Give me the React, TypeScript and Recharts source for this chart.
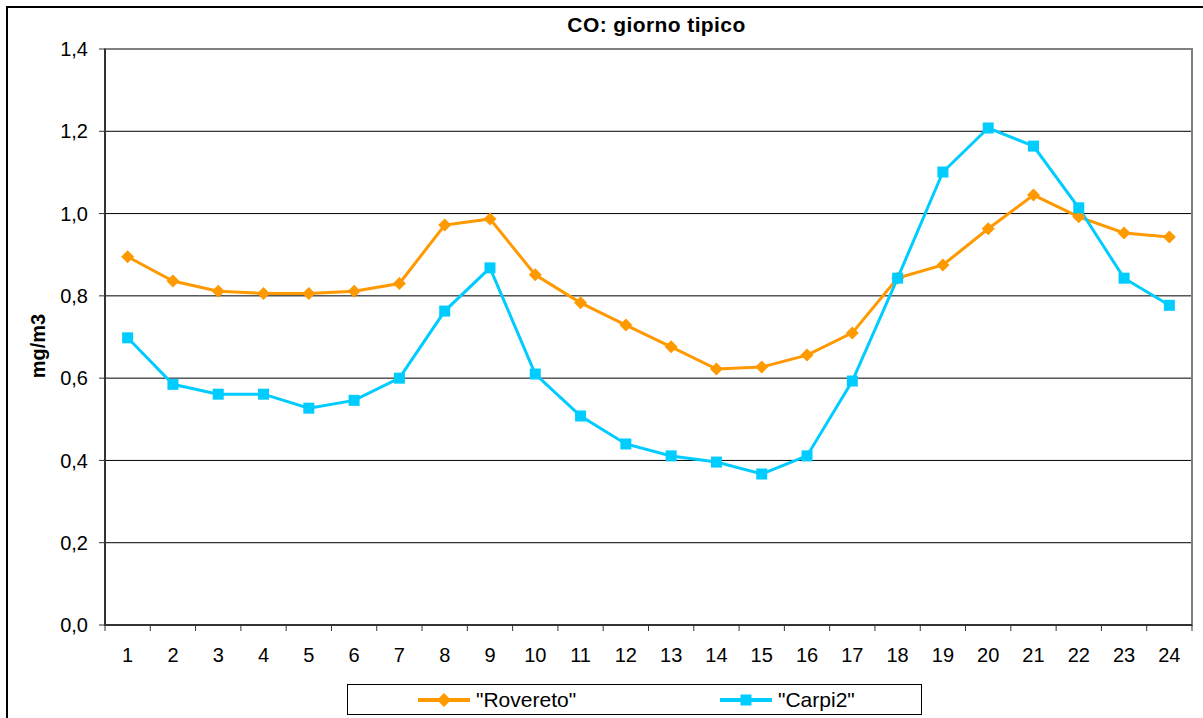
import {
  LineChart,
  Line,
  XAxis,
  YAxis,
  CartesianGrid,
  ReferenceArea,
} from "recharts";

const hours = [
  "1", "2", "3", "4", "5", "6", "7", "8", "9", "10", "11", "12",
  "13", "14", "15", "16", "17", "18", "19", "20", "21", "22", "23", "24",
];

const rovereto = [
  0.895, 0.836, 0.811, 0.806, 0.806, 0.811, 0.83, 0.972, 0.987, 0.851, 0.783, 0.729,
  0.676, 0.622, 0.627, 0.656, 0.71, 0.843, 0.875, 0.963, 1.045, 0.992, 0.953, 0.943,
];

const carpi2 = [
  0.698, 0.585, 0.561, 0.561, 0.527, 0.546, 0.6, 0.763, 0.868, 0.61, 0.508, 0.44,
  0.411, 0.396, 0.367, 0.411, 0.593, 0.843, 1.101, 1.208, 1.164, 1.014, 0.843, 0.777,
];

const yTicks = [0, 0.2, 0.4, 0.6, 0.8, 1.0, 1.2, 1.4];

const seriesNames = ['"Rovereto"', '"Carpi2"'];
const ORANGE = "#FF9900";
const CYAN = "#00CCFF";

const FONT = "'Liberation Sans', Arial, sans-serif";

const data = hours.map((h, i) => ({
  hour: h,
  rovereto: rovereto[i],
  carpi2: carpi2[i],
}));

// chart geometry
const W = 1203;
const H = 718;
const MARGIN = { top: 49, right: 11, bottom: 53, left: 0 };
const Y_AXIS_W = 105;
const X_AXIS_H = 40;
const BAND = (W - Y_AXIS_W - MARGIN.right) / hours.length;

const Diamond = (props: any) => {
  const { cx, cy } = props;
  if (cx == null || cy == null) return null;
  const r = 6.5;
  return (
    <path
      d={`M${cx},${cy - r} L${cx + r},${cy} L${cx},${cy + r} L${cx - r},${cy} Z`}
      fill={ORANGE}
    />
  );
};

const Square = (props: any) => {
  const { cx, cy } = props;
  if (cx == null || cy == null) return null;
  const s = 11;
  return <rect x={cx - s / 2} y={cy - s / 2} width={s} height={s} fill={CYAN} />;
};

const HourTick = (props: any) => {
  const { x, y, payload, index } = props;
  const axisY = y - 23;
  const half = BAND / 2;
  return (
    <g>
      <line x1={x - half} x2={x - half} y1={axisY} y2={axisY + 6} stroke="#333" />
      {index === hours.length - 1 && (
        <line x1={x + half} x2={x + half} y1={axisY} y2={axisY + 6} stroke="#333" />
      )}
      <text
        x={x}
        y={y}
        dy="0.71em"
        textAnchor="middle"
        fill="#000"
        fontSize={20}
        fontFamily={FONT}
      >
        {payload.value}
      </text>
    </g>
  );
};

const LegendIcon = ({ color, kind }: { color: string; kind: "diamond" | "square" }) => (
  <svg width={54} height={16} style={{ marginRight: 5 }}>
    <line x1={1} x2={53} y1={8} y2={8} stroke={color} strokeWidth={4} />
    {kind === "diamond" ? (
      <path d="M27,1 L34,8 L27,15 L20,8 Z" fill={color} />
    ) : (
      <rect x={21.5} y={2.5} width={11} height={11} fill={color} />
    )}
  </svg>
);

export default function App() {
  return (
    <div
      style={{
        position: "fixed",
        left: 0,
        top: 0,
        width: W,
        height: H,
        overflow: "hidden",
        background: "#fff",
        fontFamily: FONT,
      }}
    >
      {/* outer chart frame */}
      <div
        style={{
          position: "absolute",
          left: 6,
          top: 6,
          width: 1300,
          height: 800,
          border: "2px solid #000",
        }}
      />

      <div
        style={{
          position: "absolute",
          left: 0,
          right: 0,
          top: 13,
          paddingLeft: 110,
          textAlign: "center",
          fontSize: 21,
          fontWeight: "bold",
          letterSpacing: 0.4,
          color: "#000",
        }}
      >
        CO: giorno tipico
      </div>

      <div
        style={{
          position: "absolute",
          left: 38,
          top: 346,
          transform: "translate(-50%, -50%) rotate(-90deg)",
          fontSize: 20,
          fontWeight: "bold",
          whiteSpace: "nowrap",
          color: "#000",
        }}
      >
        mg/m3
      </div>

      <div style={{ position: "absolute", left: 0, top: 0 }}>
        <LineChart width={W} height={H} data={data} margin={MARGIN}>
          <CartesianGrid vertical={false} stroke="#000" strokeWidth={1} />
          <ReferenceArea
            x1="1"
            x2="24"
            y1={0}
            y2={1.4}
            stroke="#808080"
            strokeWidth={2}
            fill="none"
            ifOverflow="visible"
          />
          <XAxis
            dataKey="hour"
            scale="band"
            height={X_AXIS_H}
            interval={0}
            tickLine={false}
            tickSize={6}
            tickMargin={17}
            tick={<HourTick />}
            axisLine={{ stroke: "#333", strokeWidth: 2 }}
          />
          <YAxis
            width={Y_AXIS_W}
            domain={[0, 1.4]}
            ticks={yTicks}
            interval={0}
            tickSize={6}
            tickMargin={11}
            tickFormatter={(v: number) => v.toFixed(1).replace(".", ",")}
            tick={{ fill: "#000", fontSize: 20, fontFamily: FONT }}
            tickLine={{ stroke: "#333" }}
            axisLine={{ stroke: "#333", strokeWidth: 2 }}
          />
          <Line
            type="linear"
            dataKey="rovereto"
            name={seriesNames[0]}
            stroke={ORANGE}
            strokeWidth={3}
            dot={<Diamond />}
            activeDot={false}
            isAnimationActive={false}
          />
          <Line
            type="linear"
            dataKey="carpi2"
            name={seriesNames[1]}
            stroke={CYAN}
            strokeWidth={3}
            dot={<Square />}
            activeDot={false}
            isAnimationActive={false}
          />
        </LineChart>
      </div>

      {/* legend box */}
      <div
        style={{
          position: "absolute",
          left: 347,
          top: 684,
          width: 575,
          height: 31,
          boxSizing: "border-box",
          border: "1.5px solid #000",
          display: "flex",
          alignItems: "center",
          fontSize: 21,
          color: "#000",
        }}
      >
        <div style={{ position: "absolute", left: 69, display: "flex", alignItems: "center" }}>
          <LegendIcon color={ORANGE} kind="diamond" />
          <span>{seriesNames[0]}</span>
        </div>
        <div style={{ position: "absolute", left: 371, display: "flex", alignItems: "center" }}>
          <LegendIcon color={CYAN} kind="square" />
          <span>{seriesNames[1]}</span>
        </div>
      </div>
    </div>
  );
}
